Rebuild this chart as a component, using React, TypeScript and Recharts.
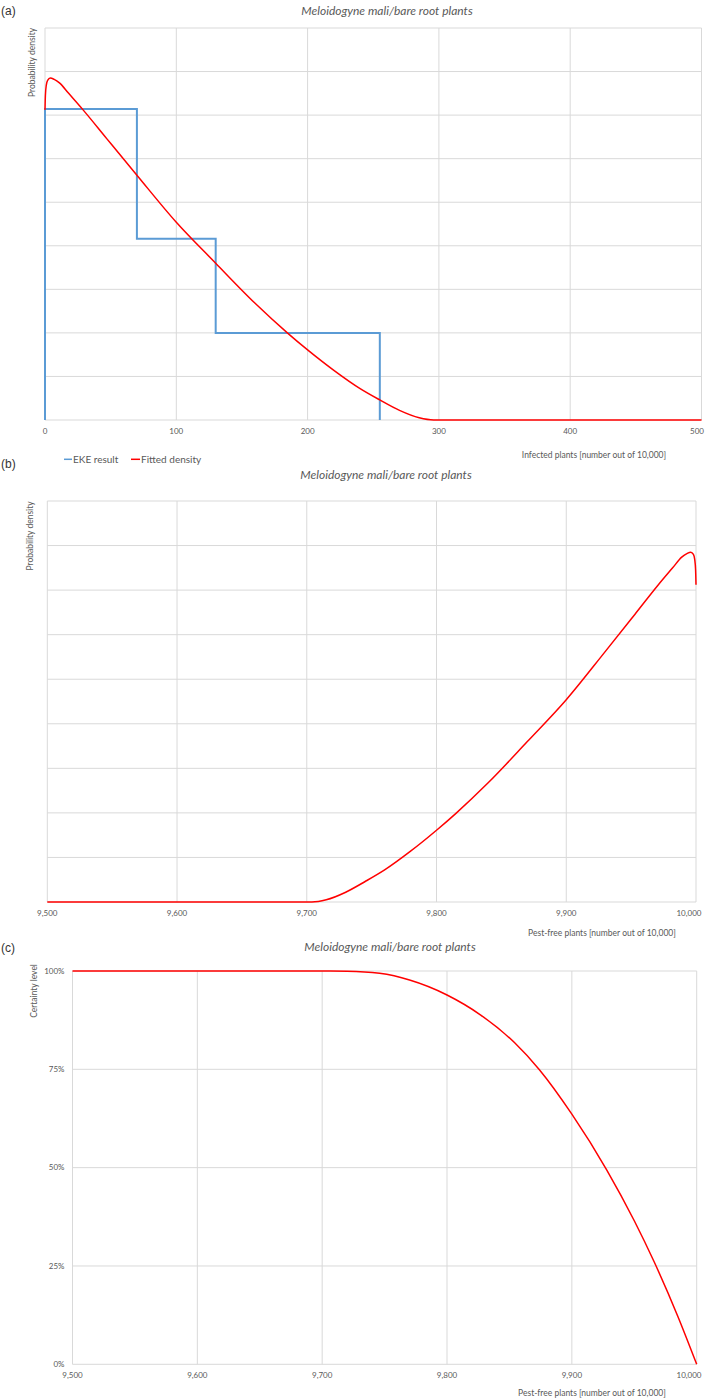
import React from 'react';
import { LineChart, Line, XAxis, YAxis, CartesianGrid } from 'recharts';

// fitted density: infected plants -> density (per plant)
const infectedPlants = [0, 0.3, 1, 2, 4, 7, 11, 18, 29, 47, 70, 100, 130, 160, 185, 200, 220, 240, 255, 270, 285, 296, 350, 400, 450, 500];
const fittedDensity = [
  0.00712, 0.00745, 0.00769, 0.0078, 0.00785, 0.00782, 0.00774, 0.0075, 0.00712, 0.00646,
  0.00562, 0.00454, 0.0036, 0.00268, 0.00199, 0.00161, 0.00114, 0.00072, 0.00046, 0.00022,
  0.00005, 0, 0, 0, 0, 0,
];

// EKE result histogram: bin edges and densities
const ekeEdges = [0, 70, 130, 255];
const ekeDensity = [0.00714, 0.00416, 0.002];

// panel (c): certainty level vs pest-free plants
const certaintyPestFree = [9500, 9600, 9700, 9720, 9746, 9770, 9800, 9827, 9854, 9874, 9900, 9928, 9950, 9966, 9985, 10000];
const certaintyLevel = [1, 1, 1, 0.9995, 0.994, 0.977, 0.939, 0.888, 0.818, 0.749, 0.636, 0.494, 0.365, 0.26, 0.121, 0];

const densityTicks = [0, 0.001, 0.002, 0.003, 0.004, 0.005, 0.006, 0.007, 0.008, 0.009];
const infectedTicks = [0, 100, 200, 300, 400, 500];
const pestFreeTicks = [9500, 9600, 9700, 9800, 9900, 10000];
const certaintyTicks = [0, 0.25, 0.5, 0.75, 1];

const TITLE = 'Meloidogyne mali/bare root plants';
const FONT = "Lato, 'Open Sans', sans-serif";
const GREY = '#595959';
const GRID = '#d9d9d9';
const RED = '#ff0000';
const BLUE = '#5b9bd5';

const fittedData = infectedPlants.map((x, i) => ({ x, y: fittedDensity[i] }));
const ekeData = [{ x: ekeEdges[0], y: 0 }]
  .concat(ekeDensity.map((d, i) => ({ x: ekeEdges[i], y: d })))
  .concat([{ x: ekeEdges[ekeEdges.length - 1], y: 0 }]);
const pestFreeData = infectedPlants
  .map((x, i) => ({ x: 10000 - x, y: fittedDensity[i] }))
  .reverse();
const certaintyData = certaintyPestFree.map((x, i) => ({ x, y: certaintyLevel[i] }));

const fmtThousands = (v: number) => v.toLocaleString('en-US');

const XTick = (props: any) => {
  const { x, y, payload, fmt } = props;
  return (
    <text x={x} y={y} dy="0.35em" textAnchor="middle" fontSize={8} fill={GREY} fontFamily={FONT}>
      {fmt ? fmt(payload.value) : payload.value}
    </text>
  );
};

const YTick = (props: any) => {
  const { x, y, payload } = props;
  return (
    <text x={x} y={y} dy="0.35em" textAnchor="end" fontSize={8} fill={GREY} fontFamily={FONT}>
      {Math.round(payload.value * 100) + '%'}
    </text>
  );
};

const chartBox = (top: number): React.CSSProperties => ({ position: 'absolute', left: 0, top });

export default function App() {
  return (
    <div style={{ position: 'absolute', left: 0, top: 0, width: 709, height: 1399, background: '#fff', fontFamily: FONT }}>
      {/* (a) */}
      <div style={chartBox(0)}>
        <LineChart width={709} height={440} margin={{ top: 28, right: 7.5, bottom: 0, left: 45 }}>
          <CartesianGrid stroke={GRID} strokeWidth={1} />
          <XAxis
            type="number"
            dataKey="x"
            domain={[0, 500]}
            ticks={infectedTicks}
            height={20}
            axisLine={false}
            tickLine={false}
            tickSize={0}
            tickMargin={11}
            tick={(p: any) => <XTick {...p} />}
          />
          <YAxis type="number" hide domain={[0, 0.009]} ticks={densityTicks} />
          <Line data={ekeData} dataKey="y" type="stepAfter" stroke={BLUE} strokeWidth={2} dot={false} isAnimationActive={false} name="EKE result" />
          <Line data={fittedData} dataKey="y" type="monotone" stroke={RED} strokeWidth={1.5} dot={false} isAnimationActive={false} name="Fitted density" />
        </LineChart>
      </div>

      {/* (b) */}
      <div style={chartBox(473)}>
        <LineChart width={709} height={449} margin={{ top: 28, right: 13, bottom: 0, left: 47.3 }}>
          <CartesianGrid stroke={GRID} strokeWidth={1} />
          <XAxis
            type="number"
            dataKey="x"
            domain={[9500, 10000]}
            ticks={pestFreeTicks}
            height={20}
            axisLine={false}
            tickLine={false}
            tickSize={0}
            tickMargin={11}
            tick={(p: any) => <XTick {...p} fmt={fmtThousands} />}
          />
          <YAxis type="number" hide domain={[0, 0.009]} ticks={densityTicks} />
          <Line data={pestFreeData} dataKey="y" type="monotone" stroke={RED} strokeWidth={1.5} dot={false} isAnimationActive={false} />
        </LineChart>
      </div>

      {/* (c) */}
      <div style={chartBox(943)}>
        <LineChart width={709} height={441.3} margin={{ top: 28, right: 12.3, bottom: 0, left: 42.5 }}>
          <CartesianGrid stroke={GRID} strokeWidth={1} />
          <XAxis
            type="number"
            dataKey="x"
            domain={[9500, 10000]}
            ticks={pestFreeTicks}
            height={20}
            axisLine={false}
            tickLine={false}
            tickSize={0}
            tickMargin={11}
            tick={(p: any) => <XTick {...p} fmt={fmtThousands} />}
          />
          <YAxis
            type="number"
            domain={[0, 1]}
            ticks={certaintyTicks}
            width={30}
            axisLine={false}
            tickLine={false}
            tickSize={0}
            tickMargin={8}
            tick={(p: any) => <YTick {...p} />}
          />
          <Line data={certaintyData} dataKey="y" type="monotone" stroke={RED} strokeWidth={1.5} dot={false} isAnimationActive={false} />
        </LineChart>
      </div>

      {/* text overlay */}
      <svg width={709} height={1399} style={{ position: 'absolute', left: 0, top: 0, pointerEvents: 'none' }} fontFamily={FONT}>
        <g fontFamily="'Liberation Sans', Arial, sans-serif" fontSize={12} fill="#333" dominantBaseline="central">
          <text x={1} y={11}>(a)</text>
          <text x={1} y={464}>(b)</text>
          <text x={1} y={948}>(c)</text>
        </g>
        <g fontSize={12} fontStyle="italic" fill={GREY} textAnchor="middle" dominantBaseline="central">
          <text x={387} y={10}>{TITLE}</text>
          <text x={386} y={474}>{TITLE}</text>
          <text x={390} y={946}>{TITLE}</text>
        </g>
        <g fontSize={8.5} fill={GREY} textAnchor="middle" dominantBaseline="central">
          <text x={594} y={455}>Infected plants [number out of 10,000]</text>
          <text x={602} y={933}>Pest-free plants [number out of 10,000]</text>
          <text x={592} y={1393}>Pest-free plants [number out of 10,000]</text>
          <text transform="translate(32.3,62.5) rotate(-90)">Probability density</text>
          <text transform="translate(29.5,536) rotate(-90)">Probability density</text>
          <text transform="translate(34,991) rotate(-90)">Certainty level</text>
        </g>
        <g fontSize={10} fill={GREY} dominantBaseline="central">
          <line x1={64} x2={72} y1={459.3} y2={459.3} stroke={BLUE} strokeWidth={1.5} />
          <text x={73} y={459.3}>EKE result</text>
          <line x1={131} x2={140} y1={459.3} y2={459.3} stroke={RED} strokeWidth={1.5} />
          <text x={141} y={459.3}>Fitted density</text>
        </g>
      </svg>
    </div>
  );
}
